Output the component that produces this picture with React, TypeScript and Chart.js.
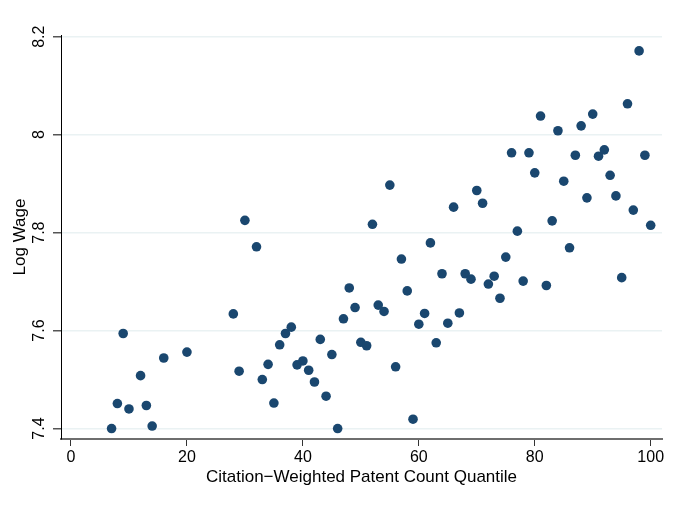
import React, { useEffect, useRef } from "react";
import { Chart, registerables } from "chart.js";

Chart.register(...registerables);

const quantiles = [
  7, 8, 9, 10, 12, 13, 14, 16, 20, 28, 29, 30, 32, 33, 34, 35, 36, 37, 38, 39,
  40, 41, 42, 43, 44, 45, 46, 47, 48, 49, 50, 51, 52, 53, 54, 55, 56, 57, 58, 59,
  60, 61, 62, 63, 64, 65, 66, 67, 68, 69, 70, 71, 72, 73, 74, 75, 76, 77, 78, 79,
  80, 81, 82, 83, 84, 85, 86, 87, 88, 89, 90, 91, 92, 93, 94, 95, 96, 97, 98, 99, 100,
];

const logWage = [
  7.4, 7.451, 7.594, 7.44, 7.508, 7.447, 7.405, 7.544, 7.556, 7.634, 7.517, 7.825,
  7.771, 7.5, 7.531, 7.452, 7.571, 7.594, 7.607, 7.53, 7.538, 7.519, 7.495, 7.582,
  7.466, 7.551, 7.4, 7.624, 7.687, 7.647, 7.576, 7.569, 7.817, 7.652, 7.639, 7.897,
  7.526, 7.746, 7.681, 7.419, 7.613, 7.635, 7.779, 7.575, 7.716, 7.615, 7.852, 7.636,
  7.716, 7.705, 7.886, 7.86, 7.695, 7.711, 7.666, 7.75, 7.963, 7.803, 7.701, 7.963,
  7.922, 8.038, 7.692, 7.824, 8.008, 7.905, 7.769, 7.958, 8.018, 7.871, 8.042, 7.956,
  7.969, 7.917, 7.875, 7.708, 8.063, 7.846, 8.171, 7.958, 7.815,
];

const xTicks = [0, 20, 40, 60, 80, 100];
const yTicks = [7.4, 7.6, 7.8, 8.0, 8.2];

const FONT = "'Liberation Sans', Arial, Helvetica, sans-serif";

const yLabelPlugin = {
  id: "yRotatedLabels",
  afterDraw(chart: any) {
    const scale = chart.scales.y;
    const ctx = chart.ctx;
    ctx.save();
    ctx.fillStyle = "#000";
    ctx.font = `16px ${FONT}`;
    ctx.textAlign = "center";
    ctx.textBaseline = "middle";
    for (const t of scale.ticks) {
      const py = scale.getPixelForValue(t.value);
      const px = scale.right - 21.5;
      ctx.save();
      ctx.translate(px, py);
      ctx.rotate(-Math.PI / 2);
      ctx.fillText(String(Number(t.value.toFixed(1))), 0, 0);
      ctx.restore();
    }
    ctx.restore();
  },
};

export default function App() {
  const ref = useRef<HTMLCanvasElement | null>(null);

  useEffect(() => {
    document.body.style.margin = "0";
    const canvas = ref.current;
    if (!canvas) return;
    const chart = new Chart(canvas, {
      type: "scatter",
      data: {
        datasets: [
          {
            data: quantiles.map((q, i) => ({ x: q, y: logWage[i] })),
            backgroundColor: "#1a476f",
            borderColor: "#1a476f",
            borderWidth: 0,
            pointRadius: 4.8,
            pointHoverRadius: 4.8,
          },
        ],
      },
      options: {
        responsive: false,
        animation: false,
        devicePixelRatio: 1,
        layout: { padding: { top: 35, right: 11, left: 0, bottom: 0 } },
        plugins: {
          legend: { display: false },
          tooltip: { enabled: false },
        },
        scales: {
          x: {
            type: "linear",
            min: -1.725,
            max: 101.95,
            afterBuildTicks: (s: any) => {
              s.ticks = xTicks.map((v) => ({ value: v }));
            },
            afterFit: (s: any) => {
              s.height = 89;
            },
            grid: {
              drawOnChartArea: false,
              drawTicks: true,
              tickLength: 7,
              tickColor: "#333",
              tickWidth: 1,
            },
            border: { display: true, color: "#6e6e6e", width: 2 },
            ticks: {
              padding: 1.5,
              color: "#000",
              font: { family: FONT, size: 16 },
              callback: (v: any) => String(v),
            },
            title: {
              display: true,
              text: "Citation\u2212Weighted Patent Count Quantile",
              color: "#000",
              font: { family: FONT, size: 17 },
              padding: { top: 0, bottom: 40 },
            },
          },
          y: {
            type: "linear",
            min: 7.3786,
            max: 8.2035,
            afterBuildTicks: (s: any) => {
              s.ticks = yTicks.map((v) => ({ value: v }));
            },
            afterFit: (s: any) => {
              s.width = 61;
            },
            grid: {
              color: "#eaf2f3",
              lineWidth: 1.5,
              drawTicks: true,
              tickLength: 8,
              tickColor: "#555",
              tickWidth: 1.5,
            },
            border: { display: true, color: "#000", width: 1 },
            ticks: { display: false },
            title: {
              display: true,
              text: "Log Wage",
              color: "#000",
              font: { family: FONT, size: 17 },
              padding: { top: 10, bottom: 0 },
            },
          },
        },
      },
      plugins: [yLabelPlugin],
    });
    return () => chart.destroy();
  }, []);

  return (
    <div style={{ position: "absolute", left: 0, top: 0, width: 673, height: 528, background: "#fff" }}>
      <canvas ref={ref} width={673} height={528} />
    </div>
  );
}
